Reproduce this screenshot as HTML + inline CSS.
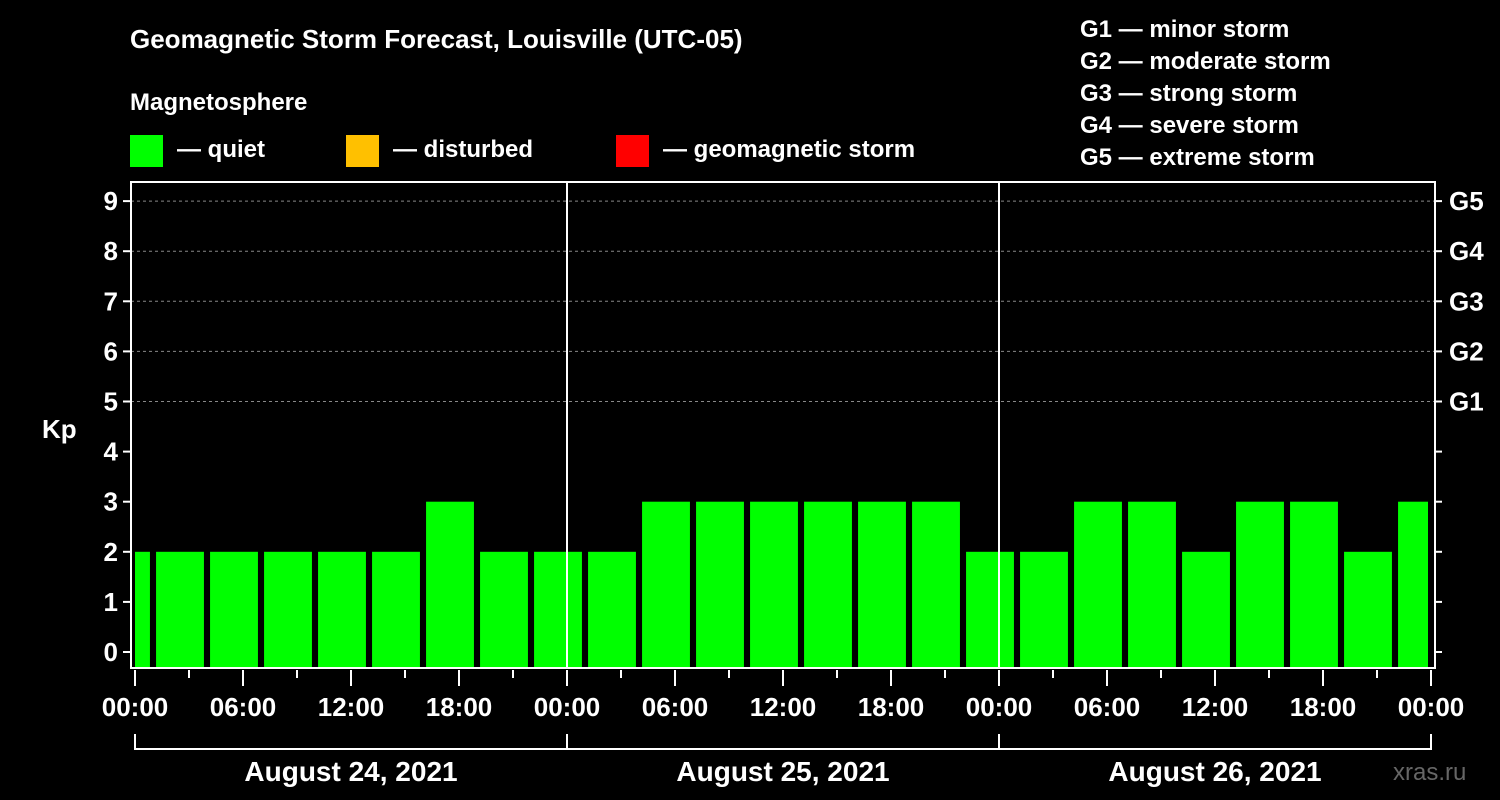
<!DOCTYPE html>
<html><head><meta charset="utf-8"><style>
body{margin:0;background:#000;width:1500px;height:800px;overflow:hidden}
svg{display:block;font-family:"Liberation Sans",Arial,sans-serif;font-weight:bold}
</style></head><body>
<svg id="c" width="1500" height="800">
<text x="130" y="48" fill="#fff" font-size="26">Geomagnetic Storm Forecast, Louisville (UTC-05)</text>
<text x="130" y="110" fill="#fff" font-size="24">Magnetosphere</text>
<g><rect x="130" y="135" width="33" height="32" fill="#00ff00"/><text x="177" y="157" fill="#fff" font-size="24">— quiet</text></g>
<g><rect x="346" y="135" width="33" height="32" fill="#ffc000"/><text x="393" y="157" fill="#fff" font-size="24">— disturbed</text></g>
<g><rect x="616" y="135" width="33" height="32" fill="#ff0000"/><text x="663" y="157" fill="#fff" font-size="24">— geomagnetic storm</text></g>
<g fill="#fff" font-size="24">
<text x="1080" y="37">G1 — minor storm</text><text x="1080" y="69">G2 — moderate storm</text><text x="1080" y="101">G3 — strong storm</text><text x="1080" y="133">G4 — severe storm</text><text x="1080" y="165">G5 — extreme storm</text></g>
<text x="42" y="438" fill="#fff" font-size="26">Kp</text>
<text x="1393" y="780" fill="#666" font-size="24" font-weight="normal">xras.ru</text>
<g id="plot"></g>
</svg>
<script>
const kpValues=[2,2,2,2,2,2,3,2,2,2,3,3,3,3,3,3,2,2,3,3,2,3,3,2,3];
const barStartHours=-0.5; // center of first bar in local hours
const yTicks=[0,1,2,3,4,5,6,7,8,9];
const gLabels=["G1","G2","G3","G4","G5"];
const hourLabels=["00:00","06:00","12:00","18:00"];
const dayLabels=["August 24, 2021","August 25, 2021","August 26, 2021"];
const NS="http://www.w3.org/2000/svg";
const g=document.getElementById('plot');
const X0=135,PXH=18,Y0=652,PXK=50.1,L=131,R=1435,T=182,B=668;
const x=h=>X0+h*PXH, y=k=>Y0-k*PXK;
function mk(t,a,p){const e=document.createElementNS(NS,t);for(const k in a)e.setAttribute(k,a[k]);(p||g).appendChild(e);return e;}
// grid
[5,6,7,8,9].forEach(k=>{const e=mk('line',{x1:L,x2:R,y1:y(k),y2:y(k),stroke:'#888','stroke-dasharray':'3,3','stroke-width':1});

});
// bars
kpValues.forEach((v,i)=>{const c=barStartHours+3*i;let a=x(c-1.33),b=x(c+1.33);a=Math.max(a,X0);b=Math.min(b,x(72)-3);
const col=v>=5?'#ff0000':v>=4?'#ffc000':'#00ff00';
const e=mk('rect',{x:a,y:y(v),width:b-a,height:B-y(v),fill:col});

});
// day dividers
[1,2].forEach(d=>{const e=mk('line',{x1:x(24*d),x2:x(24*d),y1:T,y2:B,stroke:'#fff','stroke-width':2});

});
// frame
const fr=mk('rect',{x:L,y:T,width:R-L,height:B-T,fill:'none',stroke:'#fff','stroke-width':2});


// y ticks
yTicks.forEach(k=>{mk('line',{x1:L-8,x2:L,y1:y(k),y2:y(k),stroke:'#fff','stroke-width':2});mk('line',{x1:R,x2:R+7,y1:y(k),y2:y(k),stroke:'#fff','stroke-width':2});
const t=mk('text',{x:L-13,y:y(k)+9,fill:'#fff','font-size':26,'text-anchor':'end'});t.textContent=k;

});
gLabels.forEach((s,i)=>{const t=mk('text',{x:1449,y:y(5+i)+9,fill:'#fff','font-size':26});t.textContent=s;

});
// x ticks
for(let h=0;h<=72;h+=3){const maj=h%6==0;mk('line',{x1:x(h),x2:x(h),y1:B+2,y2:B+(maj?18:10),stroke:'#fff','stroke-width':2});
if(maj){const t=mk('text',{x:x(h),y:716,fill:'#fff','font-size':26,'text-anchor':'middle'});t.textContent=h==72?"00:00":hourLabels[(h%24)/6];

}}
// day brackets
dayLabels.forEach((s,d)=>{mk('path',{d:`M${x(24*d)} 734V749H${x(24*d+24)}V734`,fill:'none',stroke:'#fff','stroke-width':2});
const t=mk('text',{x:x(24*d+12),y:781,fill:'#fff','font-size':28,'text-anchor':'middle'});t.textContent=s;

});
</script>
</body></html>
